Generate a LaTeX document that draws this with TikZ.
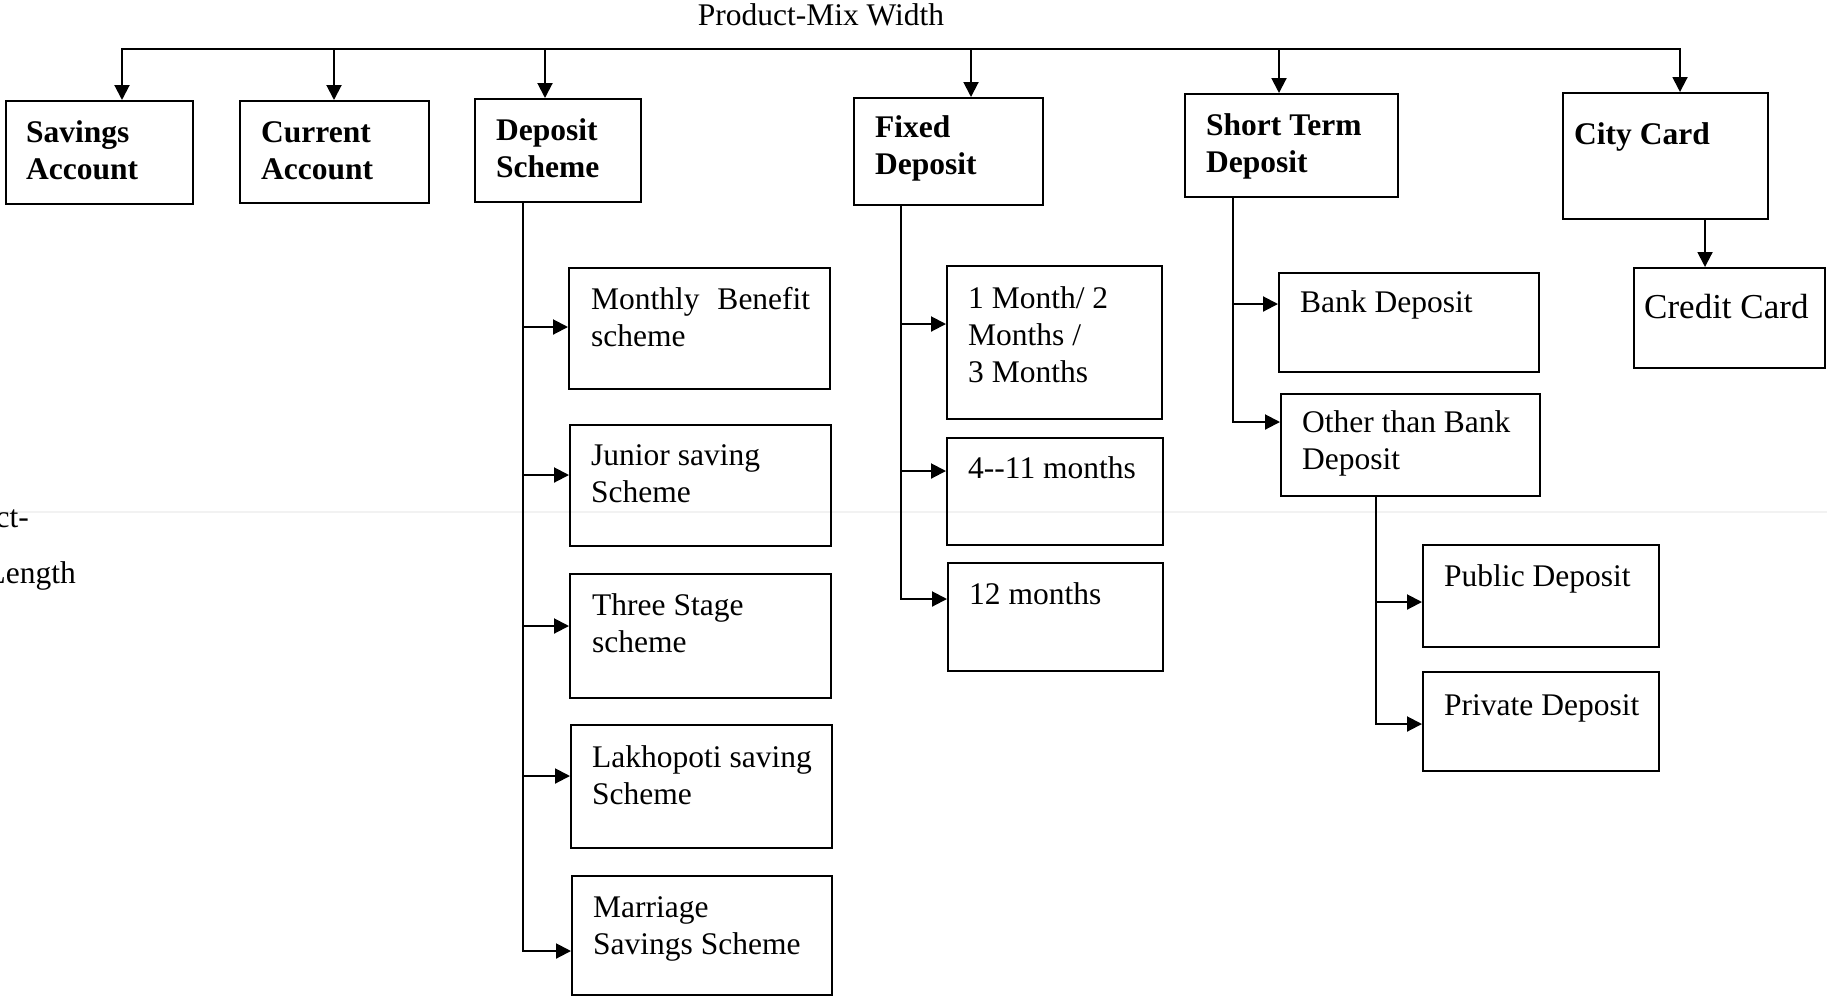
\documentclass[tikz,border=0pt]{standalone}
\usepackage{fontspec}
\setmainfont{Liberation Serif}
\usetikzlibrary{arrows.meta,fit}

\tikzset{
  box/.style={draw, line width=2pt, inner sep=0pt},
  lbl/.style={anchor=base west, inner sep=0pt, font=\fontsize{31.5}{37}\selectfont},
  blbl/.style={lbl, font=\fontsize{31.5}{37}\selectfont\bfseries},
  captxt/.style={inner sep=0pt, font=\fontsize{31.5}{37}\selectfont},
  conn/.style={line width=2pt},
  arr/.style={conn, -{Triangle[length=15pt,width=15pt]}}
}
\newcommand\tx[1]{\parbox[t]{12cm}{\raggedright #1}}

\begin{document}
\begin{tikzpicture}[x=1pt,y=-1pt]
\useasboundingbox (0,0) rectangle (1827,997);
\clip (0,0) rectangle (1827,997);

% faint scanner streak across the page
\draw[gray!10, line width=2pt] (0,512) -- (1827,512);

% captions
\node[captxt, anchor=base] (width) at (821,25) {Product-Mix Width};
\node[captxt, anchor=base east] (len1) at (29,527) {Product-};
\node[captxt, anchor=base east] (len2) at (76,583) {Length};

% first level
\node[box, fit={(6,101)(193,204)}] (sav) {};
\node[box, fit={(240,101)(429,203)}] (cur) {};
\node[box, fit={(475,99)(641,202)}] (dep) {};
\node[box, fit={(854,98)(1043,205)}] (fix) {};
\node[box, fit={(1185,94)(1398,197)}] (std) {};
\node[box, fit={(1563,93)(1768,219)}] (city) {};

\node[blbl] (sav-t) at (26,142) {\tx{Savings\\Account}};
\node[blbl] (cur-t) at (261,142) {\tx{Current\\Account}};
\node[blbl] (dep-t) at (496,140) {\tx{Deposit\\Scheme}};
\node[blbl] (fix-t) at (875,137) {\tx{Fixed\\Deposit}};
\node[blbl] (std-t) at (1206,135) {\tx{Short Term\\Deposit}};
\node[blbl] (city-t) at (1574,144) {City Card};

% deposit schemes
\node[box, fit={(569,268)(830,389)}] (mbs) {};
\node[box, fit={(570,425)(831,546)}] (jss) {};
\node[box, fit={(570,574)(831,698)}] (tss) {};
\node[box, fit={(571,725)(832,848)}] (lss) {};
\node[box, fit={(572,876)(832,995)}] (mss) {};

\node[lbl] (mbs-t) at (591,309) {\tx{\makebox[219pt][s]{Monthly Benefit}\\scheme}};
\node[lbl] (jss-t) at (591,465) {\tx{Junior saving\\Scheme}};
\node[lbl] (tss-t) at (592,615) {\tx{Three Stage\\scheme}};
\node[lbl] (lss-t) at (592,767) {\tx{Lakhopoti saving\\Scheme}};
\node[lbl] (mss-t) at (593,917) {\tx{Marriage\\Savings Scheme}};

% fixed deposit terms
\node[box, fit={(947,266)(1162,419)}] (m13) {};
\node[box, fit={(947,438)(1163,545)}] (m411) {};
\node[box, fit={(948,563)(1163,671)}] (m12) {};

\node[lbl] (m13-t) at (968,308) {\tx{1 Month/ 2\\Months /\\3 Months}};
\node[lbl] (m411-t) at (968,478) {4-{}-11 months};
\node[lbl] (m12-t) at (969,604) {12 months};

% short term deposit
\node[box, fit={(1279,273)(1539,372)}] (bank) {};
\node[box, fit={(1281,394)(1540,496)}] (other) {};
\node[box, fit={(1423,545)(1659,647)}] (pub) {};
\node[box, fit={(1423,672)(1659,771)}] (priv) {};

\node[lbl] (bank-t) at (1300,312) {Bank Deposit};
\node[lbl] (other-t) at (1302,432) {\tx{Other than Bank\\Deposit}};
\node[lbl] (pub-t) at (1444,586) {Public Deposit};
\node[lbl] (priv-t) at (1444,715) {Private Deposit};

% city card
\node[box, fit={(1634,268)(1825,368)}] (cc) {};
\node[lbl, font=\fontsize{35}{40}\selectfont] (cc-t) at (1644,318) {Credit Card};

% top distribution line
\coordinate (t1) at (122,49);
\coordinate (t2) at (334,49);
\coordinate (t3) at (545,49);
\coordinate (t4) at (971,49);
\coordinate (t5) at (1279,49);
\coordinate (t6) at (1680,49);
\draw[conn, line cap=rect] (t1) -- (t6);
\draw[arr] (t1) -- (t1 |- sav.north);
\draw[arr] (t2) -- (t2 |- cur.north);
\draw[arr] (t3) -- (t3 |- dep.north);
\draw[arr] (t4) -- (t4 |- fix.north);
\draw[arr] (t5) -- (t5 |- std.north);
\draw[arr] (t6) -- (t6 |- city.north);

% deposit scheme branches
\coordinate (d1) at (523,327);
\coordinate (d2) at (523,475);
\coordinate (d3) at (523,626);
\coordinate (d4) at (523,776);
\coordinate (d5) at (523,951);
\draw[arr] (dep.south -| d5) |- (d5 -| mss.west);
\draw[arr] (d1) -- (d1 -| mbs.west);
\draw[arr] (d2) -- (d2 -| jss.west);
\draw[arr] (d3) -- (d3 -| tss.west);
\draw[arr] (d4) -- (d4 -| lss.west);

% fixed deposit branches
\coordinate (f1) at (901,324);
\coordinate (f2) at (901,471);
\coordinate (f3) at (901,599);
\draw[arr] (fix.south -| f3) |- (f3 -| m12.west);
\draw[arr] (f1) -- (f1 -| m13.west);
\draw[arr] (f2) -- (f2 -| m411.west);

% short term deposit branches
\coordinate (s1) at (1233,304);
\coordinate (s2) at (1233,422);
\draw[arr] (std.south -| s2) |- (s2 -| other.west);
\draw[arr] (s1) -- (s1 -| bank.west);

\coordinate (o1) at (1376,602);
\coordinate (o2) at (1376,724);
\draw[arr] (other.south -| o2) |- (o2 -| priv.west);
\draw[arr] (o1) -- (o1 -| pub.west);

% city card
\coordinate (c1) at (1705,0);
\draw[arr] (city.south -| c1) -- (cc.north -| c1);
\end{tikzpicture}
\end{document}
